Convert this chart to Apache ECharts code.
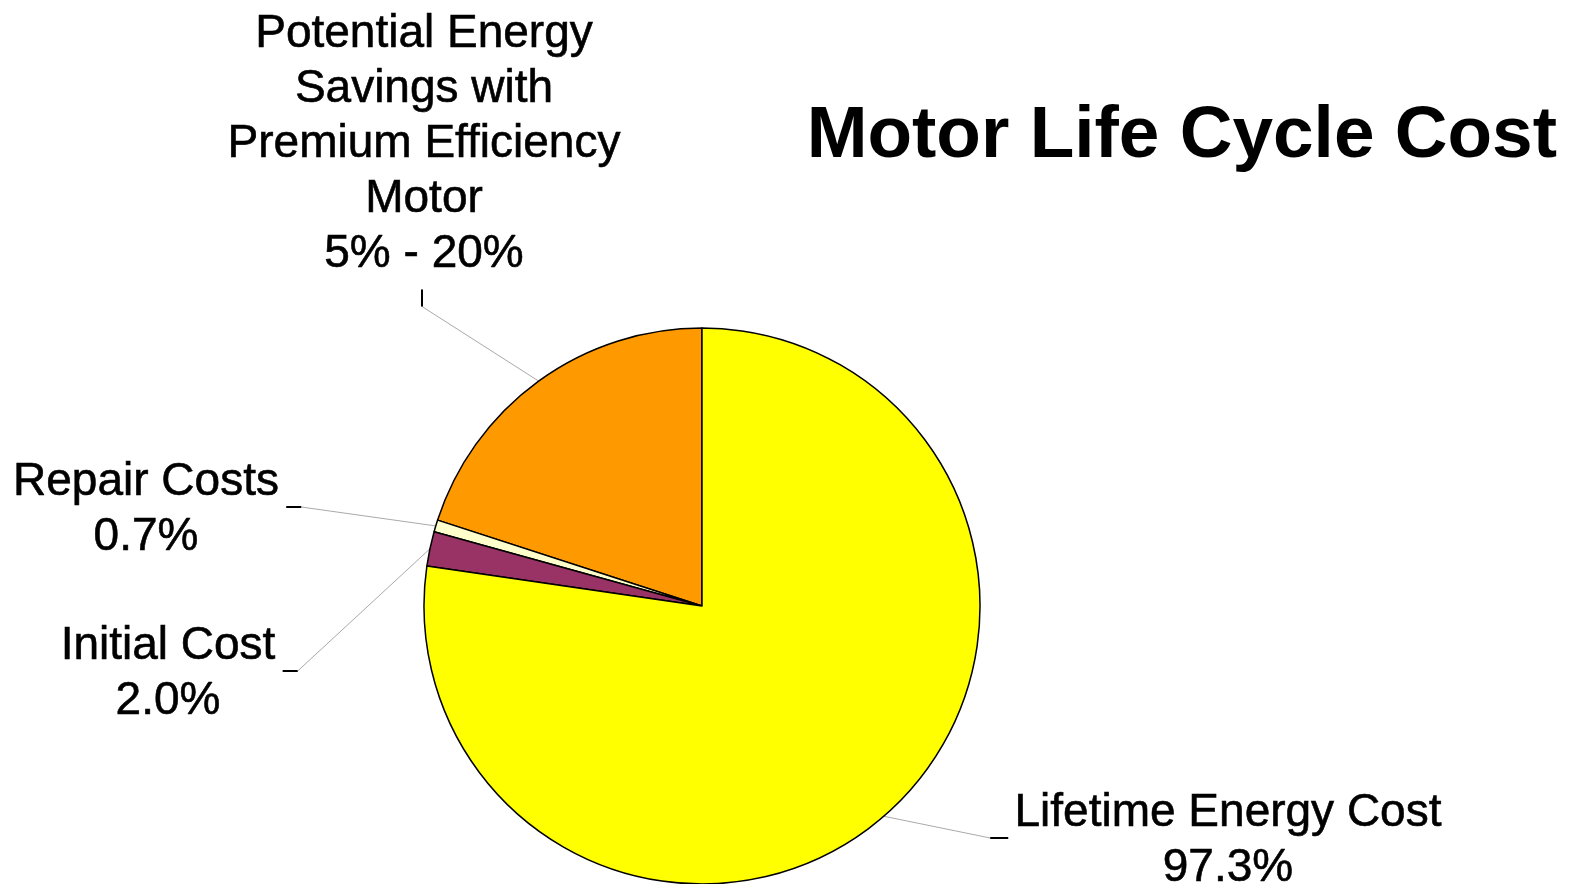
<!DOCTYPE html>
<html>
<head>
<meta charset="utf-8">
<title>Motor Life Cycle Cost</title>
<script src="https://cdn.jsdelivr.net/npm/echarts@6/dist/echarts.min.js"></script>
<style>
  html, body { margin: 0; padding: 0; background: #fff; }
  #chart { width: 1577px; height: 884px; }
</style>
</head>
<body>
<div id="chart"></div>
<script>
// slices run counter-clockwise from 12 o'clock
const categories = ['Potential Energy Savings with Premium Efficiency Motor', 'Repair Costs', 'Initial Cost', 'Lifetime Energy Cost']
const sliceValues = [20, 0.7, 2.0, 77.3]
const labelNames = ['Potential Energy\nSavings with\nPremium Efficiency\nMotor', 'Repair Costs', 'Initial Cost', 'Lifetime Energy Cost']
const labelShares = ['5% - 20%', '0.7%', '2.0%', '97.3%']
const sliceColors = ['#ff9900', '#ffffcc', '#993366', '#ffff00']

// centre of each label block, and on which side of it the leader tick sits
const labelSpots = [
  { x: 424, y: 144, side: 'bottom' },
  { x: 146, y: 510, side: 'right' },
  { x: 168, y: 674, side: 'right' },
  { x: 1228, y: 841, side: 'left' }
]

const ticks = []

function placeLabel(params) {
  const i = params.dataIndex
  const spot = labelSpots[i]
  const w = params.labelRect.width
  const h = params.labelRect.height
  const edge = params.labelLinePoints[0]
  let join, end
  if (spot.side === 'bottom') {
    end = [spot.x - 2, spot.y + h / 2 + 8]
    join = [spot.x - 2, end[1] + 17]
  } else if (spot.side === 'right') {
    end = [spot.x + w / 2 + 7, spot.y - 3]
    join = [end[0] + 15, spot.y - 3]
  } else {
    end = [spot.x - w / 2 - 6, spot.y - 3]
    join = [end[0] - 18, spot.y - 3]
  }
  ticks[i] = [join, join, end]
  return {
    x: spot.x,
    y: spot.y,
    align: 'center',
    verticalAlign: 'middle',
    labelLinePoints: [edge, join, end]
  }
}

function placeTick(params) {
  const t = ticks[params.dataIndex]
  return {
    x: t[2][0],
    y: t[2][1],
    labelLinePoints: t
  }
}

const chart = echarts.init(document.getElementById('chart'))

const pieData = categories.map((name, i) => ({
  name: name,
  value: sliceValues[i],
  itemStyle: { color: sliceColors[i] }
}))

chart.setOption({
  animation: false,
  backgroundColor: '#fff',
  title: {
    text: 'Motor Life Cycle Cost',
    right: 20,
    top: 100,
    padding: 0,
    textStyle: {
      fontFamily: 'Liberation Sans',
      fontSize: 73,
      fontWeight: 'bold',
      color: '#000'
    }
  },
  series: [
    {
      type: 'pie',
      center: [702, 606],
      radius: 278,
      startAngle: 90,
      clockwise: false,
      avoidLabelOverlap: false,
      emphasis: { disabled: true },
      itemStyle: {
        borderColor: '#000',
        borderWidth: 1.5
      },
      label: {
        show: true,
        position: 'outside',
        formatter: params => labelNames[params.dataIndex] + '\n' + labelShares[params.dataIndex],
        fontFamily: 'Liberation Sans',
        fontSize: 46,
        lineHeight: 55,
        color: '#000',
        textBorderColor: '#000',
        textBorderWidth: 0.6,
        align: 'center'
      },
      labelLine: {
        show: true,
        length: 10,
        length2: 10,
        lineStyle: { color: '#aaa', width: 1 }
      },
      labelLayout: placeLabel,
      data: pieData
    },
    {
      // black ticks at the label end of each leader line
      type: 'pie',
      center: [702, 606],
      radius: 278,
      startAngle: 90,
      clockwise: false,
      silent: true,
      avoidLabelOverlap: false,
      itemStyle: { color: 'rgba(0,0,0,0)', borderWidth: 0 },
      label: {
        show: true,
        position: 'outside',
        formatter: ' ',
        fontSize: 2
      },
      labelLine: {
        show: true,
        lineStyle: { color: '#000', width: 2 }
      },
      labelLayout: placeTick,
      data: pieData.map(d => ({ name: d.name, value: d.value }))
    }
  ]
})
</script>
</body>
</html>
